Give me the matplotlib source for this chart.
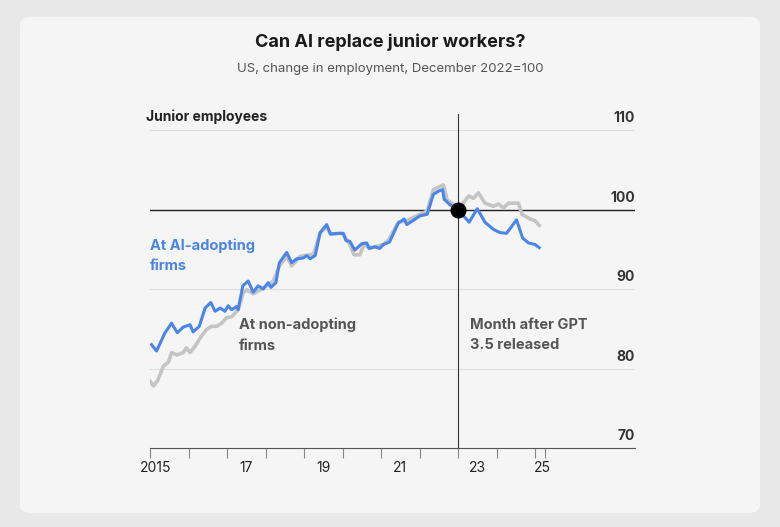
import matplotlib
matplotlib.use("Agg")
import matplotlib.pyplot as plt
from matplotlib.patches import FancyBboxPatch

plt.rcParams['font.family'] = ['Inter', 'DejaVu Sans']

# Employment index, December 2022 = 100
ai_years = [2015.04, 2015.17, 2015.39, 2015.56, 2015.71, 2015.86, 2016.04, 2016.12, 2016.28, 2016.43,
            2016.58, 2016.69, 2016.82, 2016.95, 2017.03, 2017.12, 2017.25, 2017.29, 2017.41, 2017.55,
            2017.68, 2017.81, 2017.94, 2018.07, 2018.14, 2018.27, 2018.36, 2018.55, 2018.68, 2018.81,
            2018.98, 2019.07, 2019.16, 2019.29, 2019.42, 2019.59, 2019.69, 2019.85, 2020.02, 2020.09,
            2020.19, 2020.32, 2020.50, 2020.63, 2020.69, 2020.84, 2020.97, 2021.06, 2021.22, 2021.45,
            2021.60, 2021.67, 2021.80, 2022.01, 2022.20, 2022.36, 2022.49, 2022.60, 2022.64, 2022.79,
            2023.0, 2023.29, 2023.50, 2023.70, 2023.92, 2024.09, 2024.26, 2024.52, 2024.68, 2024.83,
            2025.0, 2025.11]
ai_vals = [83.0, 82.2, 84.5, 85.7, 84.5, 85.2, 85.5, 84.6, 85.3, 87.6,
           88.3, 87.2, 87.6, 87.2, 87.9, 87.4, 87.8, 87.4, 90.4, 91.0,
           89.6, 90.4, 90.0, 90.8, 90.2, 90.8, 93.3, 94.6, 93.3, 93.8,
           93.9, 94.2, 93.8, 94.2, 97.1, 98.1, 96.9, 97.0, 97.0, 96.1,
           96.0, 94.9, 95.7, 95.8, 95.1, 95.3, 95.1, 95.6, 95.9, 98.3,
           98.8, 98.1, 98.5, 99.2, 99.4, 101.9, 102.3, 102.5, 101.3, 100.6,
           100.0, 98.4, 100.1, 98.4, 97.5, 97.1, 97.0, 98.7, 96.4, 95.8,
           95.6, 95.2]

non_years = [2015.0, 2015.09, 2015.2, 2015.35, 2015.48, 2015.56, 2015.7, 2015.86, 2015.95, 2016.04,
             2016.17, 2016.34, 2016.47, 2016.6, 2016.73, 2016.86, 2016.99, 2017.12, 2017.29, 2017.42,
             2017.51, 2017.68, 2017.94, 2018.2, 2018.36, 2018.55, 2018.68, 2018.9, 2019.25, 2019.42,
             2019.59, 2019.69, 2020.0, 2020.19, 2020.3, 2020.45, 2020.55, 2020.75, 2021.06, 2021.2,
             2021.45, 2021.67, 2022.01, 2022.2, 2022.36, 2022.62, 2022.72, 2022.9, 2023.0, 2023.28,
             2023.4, 2023.53, 2023.7, 2023.92, 2024.05, 2024.18, 2024.31, 2024.57, 2024.66, 2024.87,
             2025.0, 2025.11]
non_vals = [78.4, 77.8, 78.5, 80.3, 80.8, 82.0, 81.7, 82.0, 82.6, 82.0,
            82.8, 84.1, 84.9, 85.3, 85.3, 85.7, 86.4, 86.5, 87.4, 89.5,
            89.9, 89.4, 90.1, 91.0, 92.9, 94.1, 92.9, 94.1, 94.4, 97.1,
            97.8, 96.9, 97.0, 95.6, 94.3, 94.3, 95.5, 95.2, 95.6, 96.2,
            98.4, 98.6, 99.4, 99.8, 102.5, 103.1, 101.2, 100.6, 100.0, 101.7,
            101.4, 102.1, 100.8, 100.4, 100.7, 100.2, 100.8, 100.8, 99.4, 98.8,
            98.6, 98.0]

tick_years = list(range(2015, 2026))
label_pos = [2015.15, 2017.5, 2019.5, 2021.5, 2023.5, 2025.2]
label_txt = ["2015", "17", "19", "21", "23", "25"]
y_levels = [70, 80, 90, 100, 110]
gpt_month = 2023.0

W, H = 780, 527
fig = plt.figure(figsize=(W / 100, H / 100), dpi=100)
fig.patch.set_facecolor("#e8e8e8")
card = FancyBboxPatch((20 / W, 14 / H), 740 / W, 496 / H, boxstyle="round,pad=0,rounding_size=0.015",
                      transform=fig.transFigure, facecolor="#f5f5f5", edgecolor="none", zorder=-10)
fig.patches.append(card)

fig.text(390 / W, 1 - 42 / H, "Can AI replace junior workers?", ha="center", va="center",
         fontsize=13, fontweight="bold", color="#1a1a1a")
fig.text(390 / W, 1 - 69 / H, "US, change in employment, December 2022=100", ha="center", va="center",
         fontsize=9.5, color="#555555")

x0, x1 = 150, 635
ytop, ybot = 114, 448
ax = fig.add_axes([x0 / W, 1 - ybot / H, (x1 - x0) / W, (ybot - ytop) / H])
ax.set_zorder(5)
ax.set_facecolor("none")
ax.set_xlim(2015, 2015 + (x1 - x0) / 38.5)
ax.set_ylim(70, 70 + 10 * (ybot - ytop) / 79.5)

for v in y_levels[1:]:
    if v == 100:
        ax.axhline(v, color="#222222", lw=1, zorder=3)
    else:
        ax.axhline(v, color="#dddddd", lw=0.8, zorder=0)
    ax.text(1.0, v + 0.6, str(v), transform=ax.get_yaxis_transform(), ha="right", va="bottom",
            fontsize=10, fontweight="bold", color="#333333")
ax.text(1.0, 70.6, "70", transform=ax.get_yaxis_transform(), ha="right", va="bottom",
        fontsize=10, fontweight="bold", color="#333333")

ax.axvline(gpt_month, color="#333333", lw=0.8, zorder=3)
ax.plot(non_years, non_vals, color="#c4c4c4", lw=2.6, zorder=4)
ax.plot(ai_years, ai_vals, color="#4a85e8", lw=2.2, zorder=5)
ax.scatter([gpt_month], [100], s=110, color="black", zorder=6)

for s in ["top", "right", "left"]:
    ax.spines[s].set_visible(False)
ax.spines["bottom"].set_color("#555555")
ax.set_yticks([])
ax.set_xticks(tick_years + [2025.25])
ax.set_xticklabels([])
ax.tick_params(axis="x", length=7, color="#888888", width=0.8)
for p, t in zip(label_pos, label_txt):
    ax.text(p, -0.06, t, transform=ax.get_xaxis_transform(), ha="center", va="center",
            fontsize=10, color="#222222")

fig.text(146 / W, 1 - 117 / H, "Junior employees", ha="left", va="center",
         fontsize=10, fontweight="bold", color="#222222")
ax.text(2015.0, 94.2, "At AI-adopting\nfirms", color="#4a85e8", fontsize=10.5, fontweight="bold",
        ha="left", va="center", linespacing=1.6)
ax.text(2017.3, 84.2, "At non-adopting\nfirms", color="#555555", fontsize=10.5, fontweight="bold",
        ha="left", va="center", linespacing=1.6)
ax.text(2023.3, 84.2, "Month after GPT\n3.5 released", color="#555555", fontsize=10.5, fontweight="bold",
        ha="left", va="center", linespacing=1.6)

fig.savefig("out.png", dpi=100, facecolor=fig.get_facecolor())
